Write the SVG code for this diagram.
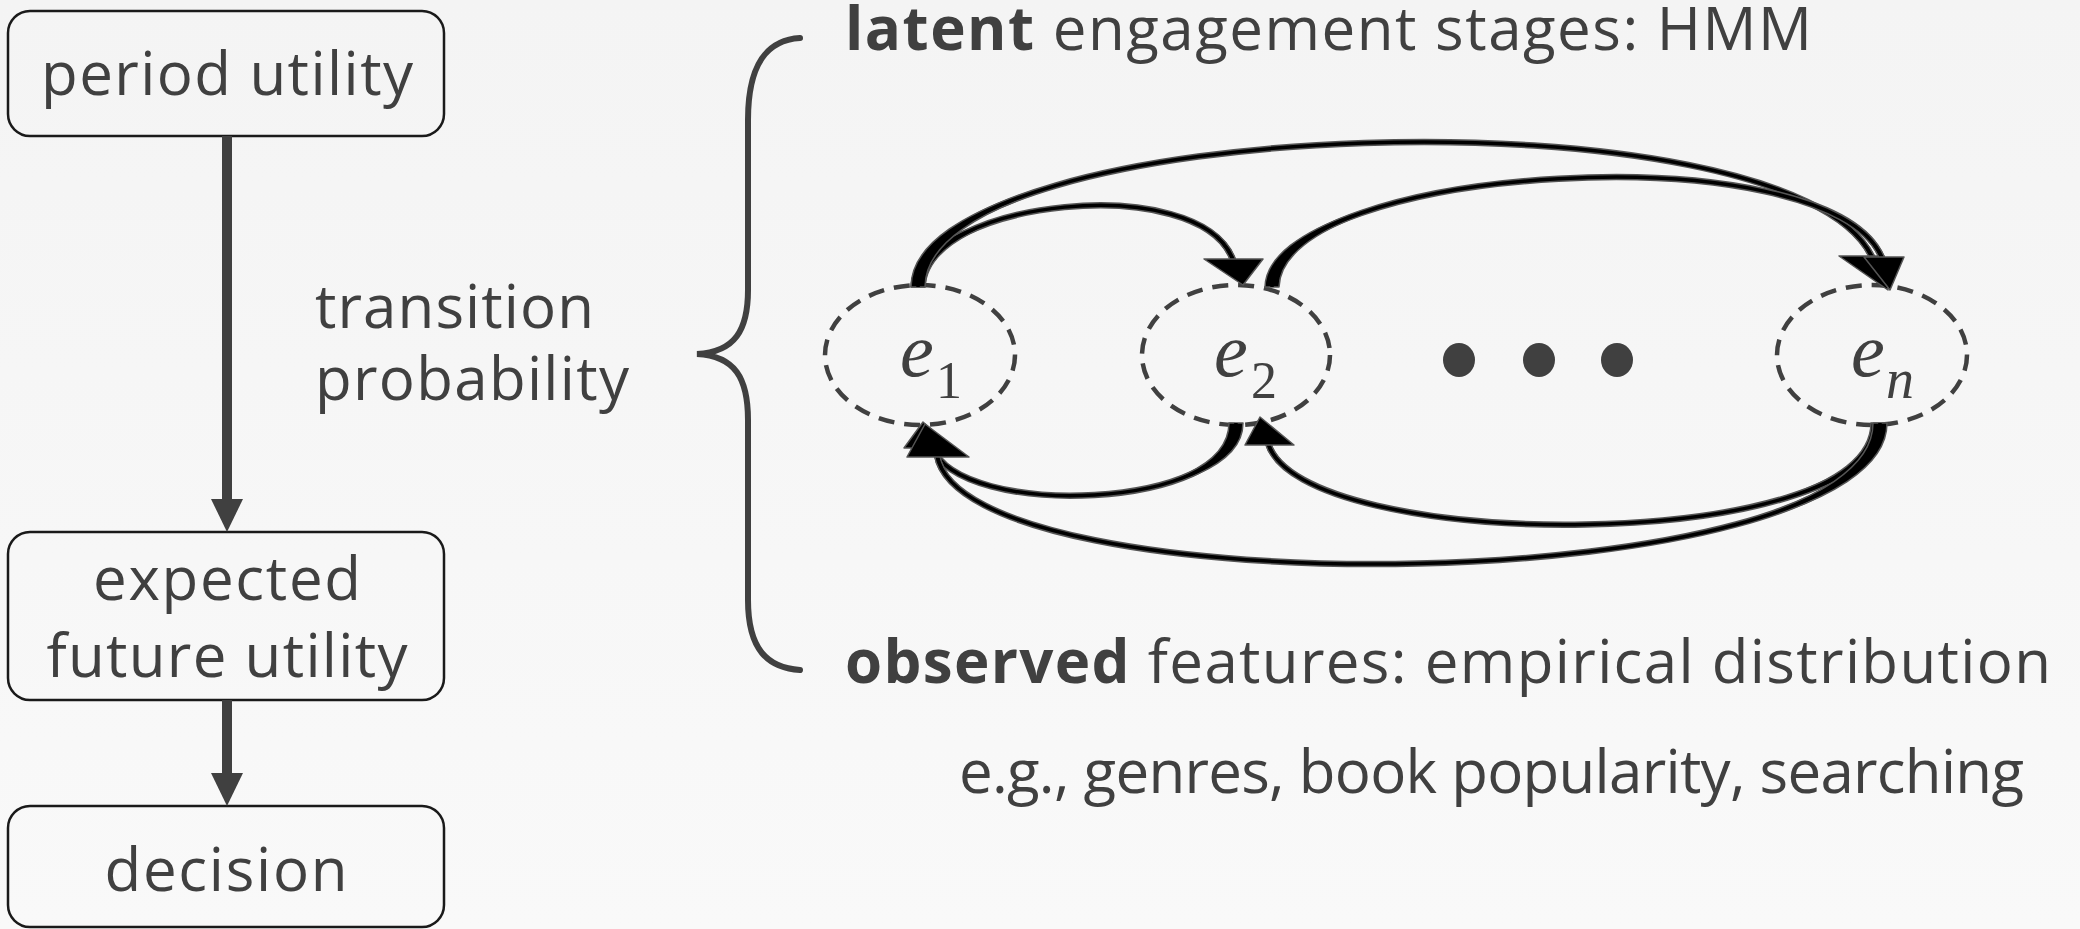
<svg xmlns="http://www.w3.org/2000/svg" width="2080" height="929" viewBox="0 0 2080 929">
  <defs>
    <linearGradient id="bg" x1="0" y1="0" x2="0" y2="1">
      <stop offset="0" stop-color="#f4f4f4"/>
      <stop offset="1" stop-color="#f9f9f9"/>
    </linearGradient>
    <style>
      .lbl { font-family: "Open Sans", "Liberation Sans", sans-serif; font-size: 60px; fill: #404040; }
      .b { font-weight: 700; }
      .box { fill: none; stroke: #1a1a1a; stroke-width: 2.5; }
      .flow { stroke: #404040; stroke-width: 10; fill: none; }
      .flowhead { fill: #404040; }
      .state { fill: none; stroke: #404040; stroke-width: 4.5; stroke-dasharray: 16 10; }
      .mathv { font-family: "Liberation Serif", "DejaVu Serif", serif; font-style: italic; fill: #404040; }
      .mathn { font-family: "Liberation Serif", "DejaVu Serif", serif; fill: #404040; }
      .halo { fill: none; stroke: #555; stroke-width: 6.5; }
      .core { fill: none; stroke: #000; stroke-width: 3.5; }
      .trans { fill: #000; stroke: #555; stroke-width: 1.5; stroke-linejoin: round; }
      .brace { fill: none; stroke: #404040; stroke-width: 6; stroke-linecap: round; }
    </style>
  </defs>

  <rect width="2080" height="929" fill="url(#bg)"/>

  <!-- left-hand decision chain -->
  <g id="period-utility">
    <rect class="box" x="8" y="11" width="436" height="125" rx="22"/>
    <text class="lbl" x="227" y="95" text-anchor="middle" textLength="372">period utility</text>
  </g>
  <g id="expected-future-utility">
    <rect class="box" x="8" y="532" width="436" height="168" rx="22"/>
    <text class="lbl" x="227" y="600" text-anchor="middle" textLength="268">expected</text>
    <text class="lbl" x="227" y="677" text-anchor="middle" textLength="361">future utility</text>
  </g>
  <g id="decision">
    <rect class="box" x="8" y="806" width="436" height="121" rx="22"/>
    <text class="lbl" x="226" y="891" text-anchor="middle" textLength="243">decision</text>
  </g>
  <g id="transition-label">
    <text class="lbl" x="315" y="328" textLength="279">transition</text>
    <text class="lbl" x="315" y="400" textLength="314">probability</text>
  </g>

  <!-- curly brace joining the two model layers -->
  <g id="brace">
    <path class="brace" d="M800,38 C768,40 748,62 748,120 L748,290 C748,330 735,352 697,354 C735,356 748,378 748,420 L748,600 C748,650 768,668 800,670"/>
  </g>

  <g id="latent-title">
    <text class="lbl" x="845" y="50" textLength="967"><tspan class="b">latent</tspan> engagement stages: HMM</text>
  </g>
  <g id="observed-title">
    <text class="lbl" x="845" y="683" textLength="1206"><tspan class="b">observed</tspan> features: empirical distribution</text>
  </g>
  <g id="examples">
    <text class="lbl" x="959" y="793" textLength="1065">e.g., genres, book popularity, searching</text>
  </g>

  <!-- hidden engagement states -->
  <g id="state-e1">
    <ellipse class="state" cx="920" cy="355" rx="95" ry="70"/>
    <text class="mathv" x="900" y="376" font-size="76">e</text>
    <text class="mathn" x="936" y="398" font-size="52">1</text>
  </g>
  <g id="state-e2">
    <ellipse class="state" cx="1236" cy="355" rx="94" ry="70"/>
    <text class="mathv" x="1214" y="376" font-size="76">e</text>
    <text class="mathn" x="1251" y="398" font-size="52">2</text>
  </g>
  <g id="ellipsis">
    <ellipse cx="1459" cy="360" rx="16" ry="17" fill="#404040"/>
    <ellipse cx="1539" cy="360" rx="16" ry="17" fill="#404040"/>
    <ellipse cx="1617" cy="360" rx="16" ry="17" fill="#404040"/>
  </g>
  <g id="state-en">
    <ellipse class="state" cx="1872" cy="355" rx="95" ry="70"/>
    <text class="mathv" x="1851" y="376" font-size="76">e</text>
    <text class="mathv" x="1886" y="398" font-size="56">n</text>
  </g>

  <!-- connectors -->
  <g id="connectors">
    <!-- utility flow -->
    <line class="flow" x1="227" y1="136" x2="227" y2="500"/>
    <polygon class="flowhead" points="211,499 243,499 227,532"/>
    <line class="flow" x1="227" y1="700" x2="227" y2="774"/>
    <polygon class="flowhead" points="211,773 243,773 227,806"/>

    <!-- each transition: gray halo, tapered body, black core, head -->
    <g id="e1-to-e2">
      <path class="halo" d="M918,287 C922,200 1200,170 1233,260"/>
      <path class="trans" d="M925,287 C929,200 1197.65,170.86 1230.65,260.86 L1235.35,259.14 C1202.35,169.14 915,200 911,287 Z"/>
      <path class="core" d="M918,287 C922,200 1200,170 1233,260"/>
      <polygon class="trans" points="1204,259 1263,259 1243,285"/>
    </g>
    <g id="e1-to-en">
      <path class="halo" d="M918,287 C918,115 1790,85 1872,257"/>
      <path class="trans" d="M925,287 C925,115 1787.74,86.08 1869.74,258.08 L1874.26,255.92 C1792.26,83.92 911,115 911,287 Z"/>
      <path class="core" d="M918,287 C918,115 1790,85 1872,257"/>
      <polygon class="trans" points="1839,256 1884,256 1888,290"/>
    </g>
    <g id="e2-to-en">
      <path class="halo" d="M1272,287 C1275,165 1830,130 1882,258"/>
      <path class="trans" d="M1279,287 C1282,165 1827.68,130.94 1879.68,258.94 L1884.32,257.06 C1832.32,129.06 1268,165 1265,287 Z"/>
      <path class="core" d="M1272,287 C1275,165 1830,130 1882,258"/>
      <polygon class="trans" points="1864,257 1904,257 1890,290"/>
    </g>
    <g id="e2-to-e1">
      <path class="halo" d="M1236,423 C1236,510 960,520 932,447"/>
      <path class="trans" d="M1229,423 C1229,510 962.34,519.1 934.34,446.1 L929.66,447.9 C957.66,520.9 1243,510 1243,423 Z"/>
      <path class="core" d="M1236,423 C1236,510 960,520 932,447"/>
      <polygon class="trans" points="904,448 953,448 923,422"/>
    </g>
    <g id="en-to-e2">
      <path class="halo" d="M1878,423 C1878,555 1300,555 1268,443"/>
      <path class="trans" d="M1871,423 C1871,555 1302.41,554.31 1270.41,442.31 L1265.59,443.69 C1297.59,555.69 1885,555 1885,423 Z"/>
      <path class="core" d="M1878,423 C1878,555 1300,555 1268,443"/>
      <polygon class="trans" points="1245,445 1294,445 1260,417"/>
    </g>
    <g id="en-to-e1">
      <path class="halo" d="M1880,423 C1880,600 962,610 937,455"/>
      <path class="trans" d="M1873,423 C1873,600 964.47,609.6 939.47,454.6 L934.53,455.4 C959.53,610.4 1887,600 1887,423 Z"/>
      <path class="core" d="M1880,423 C1880,600 962,610 937,455"/>
      <polygon class="trans" points="907,457 969,457 925,424"/>
    </g>
  </g>
</svg>
